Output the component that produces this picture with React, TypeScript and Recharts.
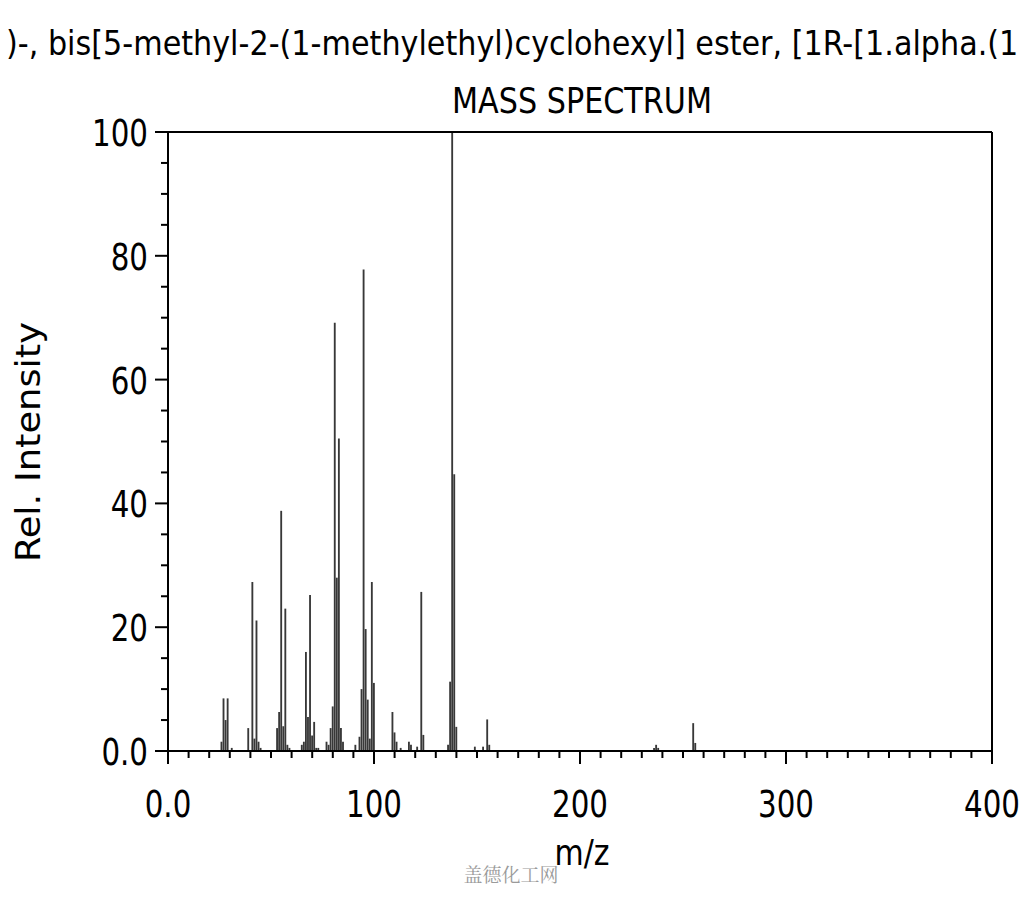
import React from 'react';
import { BarChart, Bar, XAxis, YAxis, ReferenceLine } from 'recharts';

const mzValues = [
  26, 27, 28, 29, 31, 39, 41, 42, 43, 44, 45, 53, 54, 55, 56, 57, 58, 59, 65, 66, 67, 68, 69, 70, 71, 72, 73,
  77, 78, 79, 80, 81, 82, 83, 84, 85, 91, 93, 94, 95, 96, 97, 98, 99, 100, 109, 110, 111, 113, 117, 118,
  121, 123, 124, 136, 137, 138, 139, 140, 149, 153, 155, 156, 236, 237, 238, 255, 256,
];
const relIntensity = [
  1.5, 8.5, 5.0, 8.5, 0.5, 3.7, 27.3, 2.0, 21.1, 1.5, 0.5, 3.7, 6.3, 38.8, 4.0, 23.0, 1.0, 0.5, 1.0, 1.5, 16.0, 5.5, 25.2, 2.5, 4.7, 0.5, 0.5,
  1.5, 1.0, 3.7, 7.2, 69.2, 28.0, 50.5, 3.7, 1.5, 1.0, 2.3, 10.0, 77.8, 19.7, 8.3, 2.0, 27.3, 11.0, 6.3, 3.0, 1.5, 0.5, 1.5, 1.0,
  0.7, 25.7, 2.6, 1.0, 11.2, 100, 44.7, 3.9, 0.7, 0.7, 5.1, 1.0, 0.5, 1.0, 0.5, 4.5, 1.3,
];

const xTicks = Array.from({ length: 41 }, (_, i) => i * 10);
const yTicks = Array.from({ length: 21 }, (_, i) => i * 5);
const xLabels: Record<number, string> = { 0: '0.0', 100: '100', 200: '200', 300: '300', 400: '400' };
const yLabels: Record<number, string> = { 0: '0.0', 20: '20', 40: '40', 60: '60', 80: '80', 100: '100' };

const compoundName = ')-, bis[5-methyl-2-(1-methylethyl)cyclohexyl] ester, [1R-[1.alpha.(1';
const chartTitle = 'MASS SPECTRUM';
const xTitle = 'm/z';
const yTitle = 'Rel. Intensity';
const watermark = '盖德化工网';

const data = mzValues.map((mz, i) => ({ mz, value: relIntensity[i] }));

const FONT = '"DejaVu Sans Condensed", "DejaVu Sans", sans-serif';

// tick labels are a bit narrow & tall in the original image
const TickText = ({ x, y, anchor, label }: { x: number; y: number; anchor: string; label: string }) => (
  <text
    transform={`translate(${x},${y}) scale(0.88,1)`}
    textAnchor={anchor}
    fontSize={37}
    fontFamily={FONT}
    fill="#000"
  >
    {label}
  </text>
);

const XTick = (props: any) => {
  const { x, y, payload } = props;
  const v = payload.value;
  const major = v % 100 === 0;
  return (
    <g>
      <line x1={x} x2={x} y1={y} y2={y + (major ? 13 : 7)} stroke="#000" strokeWidth={2} />
      {major && <TickText x={x} y={y + 66} anchor="middle" label={xLabels[v]} />}
    </g>
  );
};

const YTick = (props: any) => {
  const { x, y, payload } = props;
  const v = payload.value;
  const major = v % 20 === 0;
  return (
    <g>
      <line x1={x} x2={x - (major ? 13 : 7)} y1={y} y2={y} stroke="#000" strokeWidth={2} />
      {major && <TickText x={x - 20} y={y + 14} anchor="end" label={yLabels[v]} />}
    </g>
  );
};

export default function App() {
  return (
    <div style={{ position: 'absolute', left: 0, top: 0, width: 1024, height: 900, background: '#fff', overflow: 'hidden' }}>
      <BarChart
        width={1024}
        height={900}
        data={data}
        margin={{ top: 132, right: 32, left: 108, bottom: 89 }}
        barCategoryGap={0}
        style={{ position: 'absolute', left: 0, top: 0 }}
      >
        <XAxis
          dataKey="mz"
          type="number"
          domain={[0, 400]}
          ticks={xTicks}
          interval={0}
          tick={<XTick />}
          tickLine={false}
          tickSize={0}
          tickMargin={0}
          height={60}
          axisLine={{ stroke: '#000', strokeWidth: 2 }}
          allowDataOverflow
        />
        <YAxis
          type="number"
          domain={[0, 100]}
          ticks={yTicks}
          interval={0}
          tick={<YTick />}
          tickLine={false}
          tickSize={0}
          tickMargin={0}
          width={60}
          axisLine={{ stroke: '#000', strokeWidth: 2 }}
          allowDataOverflow
        />
        <ReferenceLine y={100} stroke="#000" strokeWidth={2} />
        <ReferenceLine x={400} stroke="#000" strokeWidth={2} />
        <Bar dataKey="value" fill="#383838" barSize={3} isAnimationActive={false} />
      </BarChart>
      <svg width={1024} height={900} style={{ position: 'absolute', left: 0, top: 0, pointerEvents: 'none' }}>
        <text
          transform="translate(6,55) scale(1.12,1.13)"
          fontSize={30}
          fontFamily={FONT}
          fill="#000"
        >
          {compoundName}
        </text>
        <text x={582} y={113} textAnchor="middle" fontSize={36} fontFamily={FONT} fill="#000" textLength={260} lengthAdjust="spacingAndGlyphs">
          {chartTitle}
        </text>
        <text x={582} y={865} textAnchor="middle" fontSize={36} fontFamily={FONT} fill="#000" textLength={55} lengthAdjust="spacingAndGlyphs">
          {xTitle}
        </text>
        <text
          transform="translate(40,442) rotate(-90)"
          textAnchor="middle"
          fontSize={34}
          fontFamily={FONT}
          fill="#000"
          textLength={240}
          lengthAdjust="spacingAndGlyphs"
        >
          {yTitle}
        </text>
        <text x={511} y={882} textAnchor="middle" fontSize={19} fontFamily='"Noto Serif CJK SC", "Noto Sans CJK SC", serif' fill="#9a9a9a">
          {watermark}
        </text>
      </svg>
    </div>
  );
}
